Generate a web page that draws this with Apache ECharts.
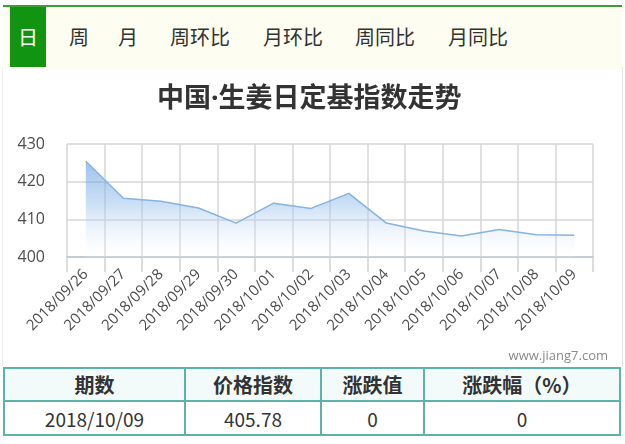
<!DOCTYPE html>
<html>
<head>
<meta charset="utf-8">
<script src="https://cdn.jsdelivr.net/npm/echarts@6/dist/echarts.min.js"></script>
<style>
  html, body { margin:0; padding:0; background:#fff; width:625px; height:444px; overflow:hidden;
    font-family: "Noto Sans CJK SC", "Noto Sans", sans-serif; }
  #wrap { position:absolute; left:0; top:0; width:625px; height:444px; }
  #tabs { position:absolute; left:3px; top:5px; width:619px; height:62px; background:#fdfdf1;
    border-top:2px solid #3a9e35; }
  .tab { position:absolute; top:0; height:60px; line-height:60px; font-size:20px; color:#333; }
  .tab.on { background:#119411; color:#fff; width:36px; text-align:center; left:7px; }
  #side { position:absolute; right:2px; top:67px; width:1px; height:300px; background:#e6e6e6; }
  #sideL { position:absolute; left:2px; top:67px; width:1px; height:300px; background:#eeeeee; }
  #chart { position:absolute; left:0; top:70px; width:625px; height:297px; }
  table { position:absolute; left:3px; top:367px; width:618px; border-collapse:collapse; }
  td, th { border:2px solid #5cb3ab; text-align:center; font-size:19px; color:#333; padding:0; }
  th { height:31px; font-weight:bold; font-size:20px; background:#f2fbfa; }
  td { height:32px; }
</style>
</head>
<body>
<div id="wrap">
  <div id="tabs">
    <div class="tab on">日</div>
    <div class="tab" style="left:66px">周</div>
    <div class="tab" style="left:115px">月</div>
    <div class="tab" style="left:167px">周环比</div>
    <div class="tab" style="left:260px">月环比</div>
    <div class="tab" style="left:352px">周同比</div>
    <div class="tab" style="left:445px">月同比</div>
  </div>
  <div id="sideL"></div>
  <div id="side"></div>
  <div id="chart"></div>
  <table>
    <tr><th style="width:179px">期数</th><th style="width:134px">价格指数</th><th style="width:101px">涨跌值</th><th>涨跌幅（%）</th></tr>
    <tr><td id="c0"></td><td id="c1"></td><td id="c2"></td><td id="c3"></td></tr>
  </table>
</div>
<script>
const titleText = "中国·生姜日定基指数走势";
const dates = ["2018/09/26","2018/09/27","2018/09/28","2018/09/29","2018/09/30","2018/10/01","2018/10/02","2018/10/03","2018/10/04","2018/10/05","2018/10/06","2018/10/07","2018/10/08","2018/10/09"];
const values = [425.4, 415.6, 414.8, 413.0, 409.0, 414.3, 412.9, 416.9, 409.0, 406.9, 405.6, 407.3, 405.9, 405.78];
const yTicks = [400, 410, 420, 430];
const latestRow = ["2018/10/09", "405.78", "0", "0"];
const watermark = "www.jiang7.com";

latestRow.forEach((v, i) => { document.getElementById('c' + i).textContent = v; });

const chart = echarts.init(document.getElementById('chart'), null, { renderer: 'canvas' });
chart.setOption({
  animation: false,
  backgroundColor: 'transparent',
  title: {
    text: titleText, left: 152, top: 11,
    textStyle: { fontSize: 27, fontWeight: 'bold', color: '#333', fontFamily: '"Noto Sans", "Noto Sans CJK SC", sans-serif' }
  },
  grid: { left: 67, right: 32, top: 74, height: 113 },
  xAxis: {
    type: 'category', data: dates, boundaryGap: true,
    axisLine: { show: true, lineStyle: { color: '#b7c5d6', width: 1.5 } },
    axisTick: { show: true, length: 15, lineStyle: { color: '#d2d2d2', width: 1.5 } },
    splitLine: { show: true, lineStyle: { color: '#d6d6d6', width: 1.5 } },
    axisLabel: { rotate: 45, margin: 15, fontSize: 15, color: '#4d4d4d', interval: 0,
      fontFamily: '"Open Sans", "Noto Sans", sans-serif' }
  },
  yAxis: {
    type: 'value', min: yTicks[0], max: yTicks[yTicks.length - 1], interval: 10,
    axisLine: { show: false }, axisTick: { show: false },
    splitLine: { show: true, lineStyle: { color: '#d6d6d6', width: 1.5 } },
    axisLabel: { margin: 22, fontSize: 16, color: '#4d4d4d', fontFamily: '"Open Sans", "Noto Sans", sans-serif' }
  },
  graphic: [{
    type: 'text', right: 17, top: 280,
    style: { text: watermark, fontSize: 13, fill: '#8a8a8a', fontFamily: '"Open Sans", "Noto Sans", sans-serif' }
  }],
  series: [{
    type: 'line', data: values, showSymbol: false, symbol: 'none',
    lineStyle: { color: '#86b3e0', width: 1.5 },
    areaStyle: {
      origin: 'start',
      color: new echarts.graphic.LinearGradient(0, 0, 0, 1, [
        { offset: 0, color: 'rgba(90,152,222,0.85)' },
        { offset: 0.45, color: 'rgba(150,190,236,0.7)' },
        { offset: 1, color: 'rgba(255,255,255,0.2)' }
      ])
    }
  }]
});
</script>
</body>
</html>
